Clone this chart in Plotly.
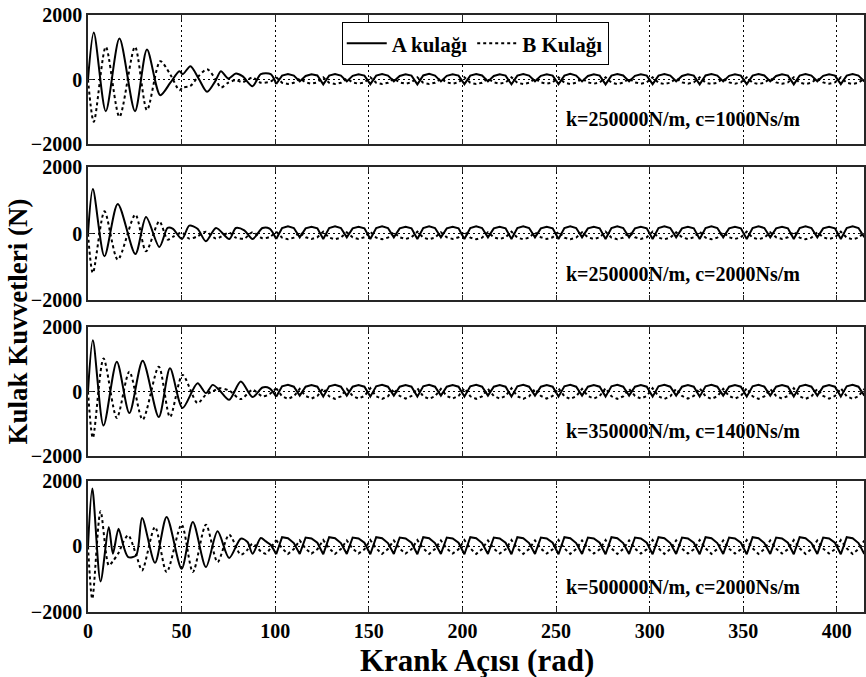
import plotly.graph_objects as go
from plotly.subplots import make_subplots

# ---------------------------------------------------------------
# Crank angle (rad) used by the steady-state part of every panel
# ---------------------------------------------------------------
steady_angle = [
    100.53, 103.67, 106.81, 109.96, 113.10, 116.24, 119.38, 122.52,
    125.66, 128.81, 131.95, 135.09, 138.23, 141.37, 144.51, 147.65,
    150.80, 153.94, 157.08, 160.22, 163.36, 166.50, 169.65, 172.79,
    175.93, 179.07, 182.21, 185.35, 188.50, 191.64, 194.78, 197.92,
    201.06, 204.20, 207.35, 210.49, 213.63, 216.77, 219.91, 223.05,
    226.19, 229.34, 232.48, 235.62, 238.76, 241.90, 245.04, 248.19,
    251.33, 254.47, 257.61, 260.75, 263.89, 267.04, 270.18, 273.32,
    276.46, 279.60, 282.74, 285.88, 289.03, 292.17, 295.31, 298.45,
    301.59, 304.73, 307.88, 311.02, 314.16, 317.30, 320.44, 323.58,
    326.73, 329.87, 333.01, 336.15, 339.29, 342.43, 345.58, 348.72,
    351.86, 355.00, 358.14, 361.28, 364.42, 367.57, 370.71, 373.85,
    376.99, 380.13, 383.27, 386.42, 389.56, 392.70, 395.84, 398.98,
    402.12, 405.27, 408.41, 411.55, 414.69,
]

# ---------------------------------------------------------------
# Panel 1: k=250000 N/m, c=1000 Ns/m
# ---------------------------------------------------------------
p1_angle = [0, 3.1, 9.5, 16.8, 25.1, 31.5, 38.6, 44.0, 48.8, 50.6, 54.7,
            59.0, 63.6, 68.0, 71.0, 74.9, 79.0, 82.5, 87.9, 92.3, 97.6]
p1_A = [0, 1457, -981, 1270, -981, 930, -485, -100, 258, 165, 413,
        40, -382, -50, 258, 31, 186, 103, -207, 165, 165]
p1_B = [0, -1312, 1012, -1157, 1012, -950, 568, 150, -330, -250, -200,
        100, 320, 20, -248, -100, -20, -80, 60, -100, -60]
p1_A_steady = [
    -140, 120, 170, 120,   -60, 110, 160, 125,   -150, 120, 170, 120,
    -60, 115, 165, 120,    -145, 120, 170, 120,  -55, 110, 160, 120,
    -150, 125, 175, 120,   -60, 115, 160, 120,   -145, 120, 170, 125,
    -60, 110, 165, 120,    -150, 120, 170, 120,  -55, 115, 160, 120,
    -145, 120, 175, 120,   -60, 110, 165, 120,   -150, 120, 170, 125,
    -60, 115, 160, 120,    -145, 120, 170, 120,  -55, 110, 165, 120,
    -150, 125, 170, 120,   -60, 115, 160, 120,   -145, 120, 170, 125,
    -60, 110, 165, 120,    -150, 120, 170, 120,  -55, 115, 160, 120,
    -145, 120, 170, 120,
    -60,
]
p1_B_steady = [
    70, -100, -140, -100,  30, -90, -130, -90,   70, -100, -140, -100,
    30, -90, -130, -90,    70, -100, -140, -100, 30, -90, -130, -90,
    70, -100, -140, -100,  30, -90, -130, -90,   70, -100, -140, -100,
    30, -90, -130, -90,    70, -100, -140, -100, 30, -90, -130, -90,
    70, -100, -140, -100,  30, -90, -130, -90,   70, -100, -140, -100,
    30, -90, -130, -90,    70, -100, -140, -100, 30, -90, -130, -90,
    70, -100, -140, -100,  30, -90, -130, -90,   70, -100, -140, -100,
    30, -90, -130, -90,    70, -100, -140, -100, 30, -90, -130, -90,
    70, -100, -140, -100,
    30,
]

# ---------------------------------------------------------------
# Panel 2: k=250000 N/m, c=2000 Ns/m
# ---------------------------------------------------------------
p2_angle = [0, 2.6, 8.8, 15.9, 25.3, 31.0, 38.1, 42.5, 45.2, 50.2, 54.1,
            58.5, 63.0, 68.4, 75.5, 79.0, 83.5, 87.9, 93.2, 97.0]
p2_A = [0, 1347, -683, 894, -613, 502, -402, 171, 150, -161, 241,
        150, -231, 171, -161, 171, 100, -161, 170, 150]
p2_B = [0, -1186, 673, -784, 573, -533, 372, -180, -100, 30, -150,
        -80, 60, -150, 30, -120, -150, 40, -140, -100]
p2_A_steady = [
    -160, 170, 220, 170,   -110, 160, 210, 160,  -160, 170, 220, 170,
    -110, 160, 210, 160,   -160, 170, 220, 170,  -110, 160, 210, 160,
    -160, 170, 220, 170,   -110, 160, 210, 160,  -160, 170, 220, 170,
    -110, 160, 210, 160,   -160, 170, 220, 170,  -110, 160, 210, 160,
    -160, 170, 220, 170,   -110, 160, 210, 160,  -160, 170, 220, 170,
    -110, 160, 210, 160,   -160, 170, 220, 170,  -110, 160, 210, 160,
    -160, 170, 220, 170,   -110, 160, 210, 160,  -160, 170, 220, 170,
    -110, 160, 210, 160,   -160, 170, 220, 170,  -110, 160, 210, 160,
    -160, 170, 220, 170,
    -110,
]
p2_B_steady = [
    60, -120, -170, -120,  40, -110, -160, -110,  60, -120, -170, -120,
    40, -110, -160, -110,  60, -120, -170, -120,  40, -110, -160, -110,
    60, -120, -170, -120,  40, -110, -160, -110,  60, -120, -170, -120,
    40, -110, -160, -110,  60, -120, -170, -120,  40, -110, -160, -110,
    60, -120, -170, -120,  40, -110, -160, -110,  60, -120, -170, -120,
    40, -110, -160, -110,  60, -120, -170, -120,  40, -110, -160, -110,
    60, -120, -170, -120,  40, -110, -160, -110,  60, -120, -170, -120,
    40, -110, -160, -110,  60, -120, -170, -120,  40, -110, -160, -110,
    60, -120, -170, -120,
    40,
]

# ---------------------------------------------------------------
# Panel 3: k=350000 N/m, c=1400 Ns/m
# ---------------------------------------------------------------
p3_angle = [0, 2.6, 8.3, 15.4, 22.1, 29.2, 37.8, 43.8, 50.5, 58.5, 63.0,
            66.6, 70.1, 75.4, 81.6, 87.9, 93.2, 97.0]
p3_A = [0, 1598, -1062, 928, -670, 959, -794, 722, -515, 258, -50,
        206, 50, -258, 309, -175, 124, 100]
p3_B = [0, -1443, 1031, -825, 619, -876, 773, -794, 516, -361, -100,
        0, 103, 30, -237, 50, -150, -80]
p3_A_steady = [
    -160, 160, 210, 150,   -130, 150, 200, 150,  -160, 160, 210, 150,
    -130, 150, 200, 150,   -160, 160, 210, 150,  -130, 150, 200, 150,
    -160, 160, 210, 150,   -130, 150, 200, 150,  -160, 160, 210, 150,
    -130, 150, 200, 150,   -160, 160, 210, 150,  -130, 150, 200, 150,
    -160, 160, 210, 150,   -130, 150, 200, 150,  -160, 160, 210, 150,
    -130, 150, 200, 150,   -160, 160, 210, 150,  -130, 150, 200, 150,
    -160, 160, 210, 150,   -130, 150, 200, 150,  -160, 160, 210, 150,
    -130, 150, 200, 150,   -160, 160, 210, 150,  -130, 150, 200, 150,
    -160, 160, 210, 150,
    -130,
]
p3_B_steady = [
    100, -150, -230, -150,  80, -140, -220, -140,  100, -150, -230, -150,
    80, -140, -220, -140,   100, -150, -230, -150,  80, -140, -220, -140,
    100, -150, -230, -150,  80, -140, -220, -140,  100, -150, -230, -150,
    80, -140, -220, -140,   100, -150, -230, -150,  80, -140, -220, -140,
    100, -150, -230, -150,  80, -140, -220, -140,  100, -150, -230, -150,
    80, -140, -220, -140,   100, -150, -230, -150,  80, -140, -220, -140,
    100, -150, -230, -150,  80, -140, -220, -140,  100, -150, -230, -150,
    80, -140, -220, -140,   100, -150, -230, -150,  80, -140, -220, -140,
    100, -150, -230, -150,
    80,
]

# ---------------------------------------------------------------
# Panel 4: k=500000 N/m, c=2000 Ns/m
# ---------------------------------------------------------------
p4_angle = [0, 2.3, 6.7, 11.1, 13.3, 16.3, 19.0, 21.5, 25.7, 28.9, 35.8,
            42.0, 50.0, 56.0, 63.0, 69.2, 75.4, 81.6, 85.2, 87.9, 92.3,
            95.0, 97.5]
p4_A = [0, 1761, -1069, 590, -224, 540, 0, -326, -275, 865, -499,
        896, -682, 743, -631, 458, -356, 234, 132, -224, 254,
        150, 50]
p4_B = [0, -1598, 1069, -580, -450, -200, 150, 336, -250, -733, 590,
        -784, 662, -784, 662, -478, 356, -254, -100, 81, -150,
        -224, -50]
p4_A_steady = [
    -240, 280, 250, 100,   -230, 270, 240, 110,  -240, 280, 250, 100,
    -230, 270, 240, 110,   -240, 280, 250, 100,  -230, 270, 240, 110,
    -240, 280, 250, 100,   -230, 270, 240, 110,  -240, 280, 250, 100,
    -230, 270, 240, 110,   -240, 280, 250, 100,  -230, 270, 240, 110,
    -240, 280, 250, 100,   -230, 270, 240, 110,  -240, 280, 250, 100,
    -230, 270, 240, 110,   -240, 280, 250, 100,  -230, 270, 240, 110,
    -240, 280, 250, 100,   -230, 270, 240, 110,  -240, 280, 250, 100,
    -230, 270, 240, 110,   -240, 280, 250, 100,  -230, 270, 240, 110,
    -240, 280, 250, 100,
    -230,
]
p4_B_steady = [
    190, -60, -230, -80,   180, -70, -220, -90,  190, -60, -230, -80,
    180, -70, -220, -90,   190, -60, -230, -80,  180, -70, -220, -90,
    190, -60, -230, -80,   180, -70, -220, -90,  190, -60, -230, -80,
    180, -70, -220, -90,   190, -60, -230, -80,  180, -70, -220, -90,
    190, -60, -230, -80,   180, -70, -220, -90,  190, -60, -230, -80,
    180, -70, -220, -90,   190, -60, -230, -80,  180, -70, -220, -90,
    190, -60, -230, -80,   180, -70, -220, -90,  190, -60, -230, -80,
    180, -70, -220, -90,   190, -60, -230, -80,  180, -70, -220, -90,
    190, -60, -230, -80,
    180,
]

panel_labels = [
    "k=250000N/m, c=1000Ns/m",
    "k=250000N/m, c=2000Ns/m",
    "k=350000N/m, c=1400Ns/m",
    "k=500000N/m, c=2000Ns/m",
]
x_ticks = [0, 50, 100, 150, 200, 250, 300, 350, 400]
y_ticks = [-2000, 0, 2000]
series_names = ["A kulağı", "B Kulağı"]

panels = [
    (p1_angle, p1_A, p1_B, p1_A_steady, p1_B_steady),
    (p2_angle, p2_A, p2_B, p2_A_steady, p2_B_steady),
    (p3_angle, p3_A, p3_B, p3_A_steady, p3_B_steady),
    (p4_angle, p4_A, p4_B, p4_A_steady, p4_B_steady),
]

FONT = "Liberation Serif, Times New Roman, serif"
AXIS_COLOR = "#262626"

fig = make_subplots(rows=4, cols=1)

for i, (ang, a_t, b_t, a_s, b_s) in enumerate(panels):
    row = i + 1
    for name, y_t, y_s, dash in ((series_names[0], a_t, a_s, "solid"),
                                 (series_names[1], b_t, b_s, "dot")):
        # decaying start-up part, smoothed
        fig.add_trace(go.Scatter(
            x=ang + steady_angle[:1], y=y_t + y_s[:1], mode="lines",
            line=dict(color="black", width=2, dash=dash,
                      shape="spline", smoothing=0.8),
            name=name, legendgroup=name, showlegend=(i == 0)),
            row=row, col=1)
        # periodic steady-state part
        fig.add_trace(go.Scatter(
            x=steady_angle, y=y_s, mode="lines",
            line=dict(color="black", width=2, dash=dash),
            name=name, legendgroup=name, showlegend=False),
            row=row, col=1)

# panel placement (fractions of the plotting area, bottom = 0)
y_domains = [[0.7839, 1.0], [0.5226, 0.7449], [0.2618, 0.4769], [0.0, 0.2199]]

for i in range(4):
    row = i + 1
    fig.update_xaxes(
        row=row, col=1, range=[0, 414.5], tickvals=x_ticks,
        showticklabels=(row == 4), ticks="inside", ticklen=5,
        tickcolor=AXIS_COLOR, showline=True, linecolor=AXIS_COLOR,
        linewidth=1.5, mirror="ticks", showgrid=True, gridcolor="black",
        gridwidth=1, griddash="2px,3px", zeroline=False,
        tickfont=dict(family=FONT, size=20, color="black", weight="bold"),
    )
    fig.update_yaxes(
        row=row, col=1, range=[-2000, 2000], tickvals=y_ticks,
        domain=y_domains[i], ticks="inside", ticklen=5,
        tickcolor=AXIS_COLOR, showline=True, linecolor=AXIS_COLOR,
        linewidth=1.5, mirror="ticks", showgrid=True, gridcolor="black",
        gridwidth=1, griddash="2px,3px", zeroline=False,
        tickfont=dict(family=FONT, size=20, color="black", weight="bold"),
    )

annotations = []
for i, label in enumerate(panel_labels):
    suffix = "" if i == 0 else str(i + 1)
    annotations.append(dict(
        text=label, x=318, y=-1225, xref="x" + suffix, yref="y" + suffix,
        showarrow=False, xanchor="center", yanchor="middle",
        font=dict(family=FONT, size=20, color="black", weight="bold")))

annotations.append(dict(
    text="Kulak Kuvvetleri (N)", x=-0.0907, y=0.4858, xref="paper",
    yref="paper", textangle=-90, showarrow=False,
    xanchor="center", yanchor="middle",
    font=dict(family=FONT, size=27, color="black", weight="bold")))
annotations.append(dict(
    text="Krank Açısı (rad)", x=0.501, y=-0.082, xref="paper", yref="paper",
    showarrow=False, xanchor="center", yanchor="middle",
    font=dict(family=FONT, size=31, color="black", weight="bold")))

fig.update_layout(
    width=866, height=677,
    margin=dict(l=88, r=0, t=15, b=65),
    paper_bgcolor="white", plot_bgcolor="white",
    annotations=annotations,
    legend=dict(
        orientation="h", x=0.327, y=0.988, xanchor="left", yanchor="top",
        bgcolor="white", bordercolor="black", borderwidth=1,
        font=dict(family=FONT, size=21, color="black", weight="bold"),
        itemwidth=40, tracegroupgap=0,
    ),
)

fig.write_html("out.html")
